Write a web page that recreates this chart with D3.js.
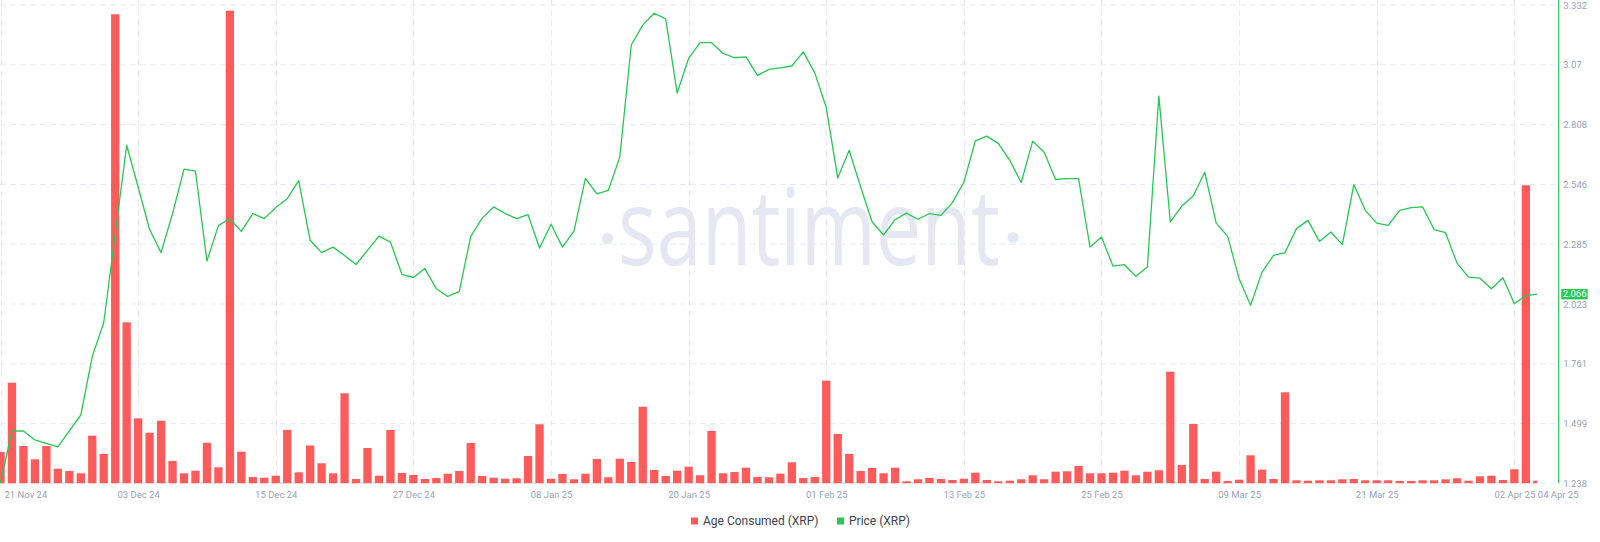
<!DOCTYPE html>
<html><head><meta charset="utf-8">
<script src="https://cdn.jsdelivr.net/npm/d3@7"></script>
<style>
html,body{margin:0;padding:0;background:#fff;}
svg{display:block;}
</style></head><body>
<svg id="chart" width="1600" height="542"></svg>
<script>
const startDate = "2024-11-21";
const ageConsumed = [
  3.13, 10.06, 3.73, 2.40, 3.73, 1.46, 1.23, 1.00, 4.76, 2.93,
  46.90, 16.10, 6.50, 5.06, 6.26, 2.23, 1.00, 1.26, 4.06, 1.60,
  47.26, 3.16, 0.63, 0.56, 0.76, 5.33, 1.10, 3.78, 2.00, 1.00,
  9.00, 0.43, 3.53, 0.76, 5.33, 1.03, 0.83, 0.43, 0.53, 0.96,
  1.23, 4.03, 0.73, 0.56, 0.46, 0.50, 2.73, 5.90, 0.46, 0.93,
  0.40, 0.96, 2.43, 0.60, 2.46, 2.13, 7.66, 1.33, 0.73, 1.26,
  1.66, 0.80, 5.23, 1.00, 1.13, 1.56, 0.63, 0.60, 0.96, 2.10,
  0.53, 0.63, 10.26, 4.93, 2.93, 1.23, 1.53, 1.00, 1.56, 0.20,
  0.40, 0.53, 0.43, 0.33, 0.46, 1.06, 0.33, 0.20, 0.26, 0.40,
  0.80, 0.40, 1.16, 1.20, 1.73, 1.00, 1.00, 1.06, 1.26, 0.80,
  1.16, 1.30, 11.16, 1.83, 5.93, 0.43, 1.16, 0.23, 0.36, 2.80,
  1.36, 0.43, 9.10, 0.30, 0.26, 0.30, 0.30, 0.40, 0.43, 0.30,
  0.30, 0.30, 0.23, 0.23, 0.30, 0.30, 0.40, 0.50, 0.26, 0.70,
  0.76, 0.33, 1.40, 29.80, 0.26
];
const price = [
  1.240, 1.467, 1.467, 1.428, 1.413, 1.398, 1.468, 1.537, 1.793, 1.941,
  2.328, 2.718, 2.535, 2.349, 2.248, 2.419, 2.613, 2.605, 2.211, 2.366,
  2.397, 2.341, 2.419, 2.397, 2.445, 2.484, 2.563, 2.302, 2.248, 2.272,
  2.235, 2.196, 2.258, 2.320, 2.294, 2.153, 2.139, 2.178, 2.090, 2.056,
  2.077, 2.319, 2.399, 2.448, 2.419, 2.397, 2.414, 2.268, 2.372, 2.272,
  2.342, 2.573, 2.505, 2.520, 2.667, 3.157, 3.244, 3.296, 3.271, 2.947,
  3.098, 3.167, 3.167, 3.120, 3.101, 3.105, 3.024, 3.050, 3.057, 3.065,
  3.127, 3.035, 2.883, 2.575, 2.696, 2.535, 2.382, 2.325, 2.392, 2.421,
  2.394, 2.419, 2.411, 2.467, 2.556, 2.737, 2.758, 2.726, 2.652, 2.555,
  2.736, 2.687, 2.568, 2.572, 2.572, 2.272, 2.316, 2.189, 2.195, 2.144,
  2.185, 2.933, 2.382, 2.452, 2.496, 2.600, 2.377, 2.319, 2.134, 2.017,
  2.163, 2.236, 2.248, 2.353, 2.389, 2.297, 2.338, 2.283, 2.546, 2.433,
  2.377, 2.367, 2.433, 2.445, 2.448, 2.349, 2.335, 2.202, 2.141, 2.136,
  2.090, 2.138, 2.024, 2.060, 2.066
];
const priceTicks = [1.238, 1.499, 1.761, 2.023, 2.285, 2.546, 2.808, 3.07, 3.332];
const dateTickLabels = ["21 Nov 24","03 Dec 24","15 Dec 24","27 Dec 24","08 Jan 25","20 Jan 25",
  "01 Feb 25","13 Feb 25","25 Feb 25","09 Mar 25","21 Mar 25","02 Apr 25","04 Apr 25"];
const seriesNames = ["Age Consumed (XRP)", "Price (XRP)"];
const seriesColors = ["#ff5b5b", "#26c953"];
const lastPriceLabel = "2.066";
const watermark = "santiment";

const parseDay = d3.utcParse("%Y-%m-%d");
const parseTick = d3.utcParse("%d %b %y");
const start = parseDay(startDate);
const dates = price.map((_, i) => d3.utcDay.offset(start, i));
const tickDates = dateTickLabels.map(parseTick);

const svg = d3.select("#chart");
const W = 1600, H = 542;
const plotLeft = 0.5, plotRight = 1537.3, axisX = 1558.7;
const yTop = 5, yBottom = 483.3;

const x = d3.scaleUtc().domain([dates[0], dates[dates.length - 1]]).range([plotLeft, plotRight]);
const yP = d3.scaleLinear().domain([priceTicks[0], priceTicks[priceTicks.length - 1]]).range([yBottom, yTop]);
const yB = d3.scaleLinear().domain([0, 48]).range([yBottom, yBottom - 480]);

const gridColor = "#e8ebf3";
const textColor = "#9aa3bc";
const font = "Roboto, 'Open Sans', sans-serif";

// clip
svg.append("defs").append("clipPath").attr("id", "plotclip")
  .append("rect").attr("x", 0).attr("y", 0).attr("width", plotRight).attr("height", yBottom + 0.5);

// horizontal grid
svg.append("g").selectAll("line").data(priceTicks).join("line")
  .attr("x1", 0).attr("x2", axisX)
  .attr("y1", d => yP(d)).attr("y2", d => yP(d))
  .attr("stroke", gridColor).attr("stroke-width", 1).attr("stroke-dasharray", "6,4");

// vertical grid
svg.append("g").selectAll("line").data(tickDates.slice(0, -1)).join("line")
  .attr("x1", d => Math.round(x(d)) + 0.5).attr("x2", d => Math.round(x(d)) + 0.5)
  .attr("y1", 0).attr("y2", yBottom)
  .attr("stroke", gridColor).attr("stroke-width", 1).attr("stroke-dasharray", "6,4");

// watermark
const wm = svg.append("g").attr("fill", "#e5e8f2");
wm.append("text").attr("x", 618).attr("y", 265)
  .attr("font-family", "'Open Sans', sans-serif").attr("font-weight", 400)
  .attr("font-size", 106).attr("textLength", 382).attr("lengthAdjust", "spacingAndGlyphs")
  .text(watermark);
wm.append("circle").attr("cx", 607.5).attr("cy", 238.5).attr("r", 5.5);
wm.append("circle").attr("cx", 1013).attr("cy", 237.5).attr("r", 5.5);

const plot = svg.append("g").attr("clip-path", "url(#plotclip)");

// bars
const bw = 8.3;
plot.append("g").selectAll("rect").data(ageConsumed).join("rect")
  .attr("x", (d, i) => x(dates[i]) - bw / 2)
  .attr("y", d => yB(d))
  .attr("width", bw)
  .attr("height", d => yBottom - yB(d))
  .attr("fill", seriesColors[0]);

// price line
const line = d3.line().x((d, i) => x(dates[i])).y(d => yP(d));
plot.append("path").datum(price)
  .attr("d", line).attr("fill", "none")
  .attr("stroke", seriesColors[1]).attr("stroke-width", 1.3).attr("stroke-linejoin", "round");

// right axis
const yAxis = d3.axisRight(yP).tickValues(priceTicks).tickFormat(d => String(d)).tickSize(0).tickPadding(4.5);
const ga = svg.append("g").attr("transform", `translate(${axisX},0)`).call(yAxis);
ga.select(".domain").remove();
ga.selectAll("text").attr("fill", textColor).attr("font-size", 9.5).attr("font-family", font);
svg.append("line").attr("x1", axisX).attr("x2", axisX).attr("y1", 0).attr("y2", yBottom)
  .attr("stroke", seriesColors[1]).attr("stroke-width", 1.2);

// last price label
const lp = price[price.length - 1];
svg.append("rect").attr("x", axisX + 2.5).attr("y", yP(lp) - 5.2).attr("width", 26.5).attr("height", 10.4)
  .attr("fill", seriesColors[1]);
svg.append("text").attr("x", axisX + 4).attr("y", yP(lp)).attr("dy", "0.35em")
  .attr("fill", "#fff").attr("font-size", 9.5).attr("font-family", font).text(lastPriceLabel);

// bottom axis
const xAxis = d3.axisBottom(x).tickValues(tickDates).tickFormat((d, i) => dateTickLabels[i]).tickSize(0).tickPadding(8);
const gx = svg.append("g").attr("transform", `translate(0,${yBottom})`).call(xAxis);
gx.select(".domain").remove();
gx.selectAll("text").attr("fill", textColor).attr("font-size", 9.5).attr("font-family", font);
gx.selectAll("text").filter((d, i) => i === 0).attr("text-anchor", "start").attr("x", 3.5);
gx.selectAll("text").filter((d, i) => i === dateTickLabels.length - 1).attr("text-anchor", "start").attr("x", 0);

// legend
const legend = svg.append("g").attr("font-family", font).attr("font-size", 12);
const legendX = [691, 837];
seriesNames.forEach((name, i) => {
  legend.append("rect").attr("x", legendX[i]).attr("y", 517.5).attr("width", 7).attr("height", 7).attr("fill", seriesColors[i]);
  legend.append("text").attr("x", legendX[i] + 12).attr("y", 525).attr("fill", "#3d4250").text(name);
});
</script>
</body></html>
